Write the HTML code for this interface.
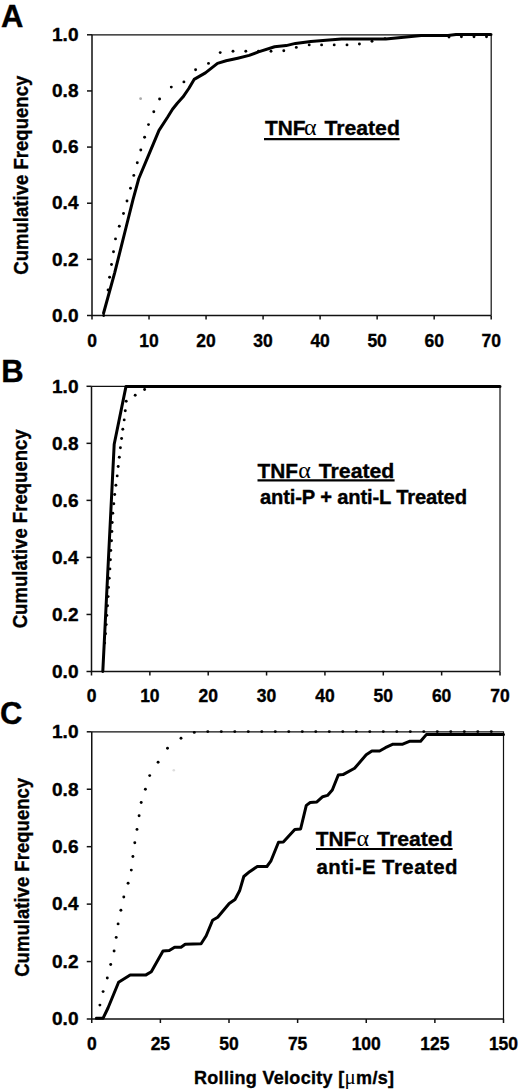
<!DOCTYPE html>
<html><head><meta charset="utf-8"><style>
html,body{margin:0;padding:0;background:#fff;}
body{width:520px;height:1090px;overflow:hidden;}
svg{display:block;}
text{font-family:"Liberation Sans", sans-serif;font-weight:bold;fill:#000;stroke:#000;stroke-width:0.35px;}
.t{font-size:17.5px;}
.yl{font-size:20px;}
.pl{font-size:31px;}
.gr{font-family:"Liberation Serif", serif;font-weight:normal;stroke:none;}
.gr2{font-family:"Liberation Serif", serif;font-weight:normal;stroke:none;font-size:21px;}
.xt{font-size:18px;}
</style></head><body>
<svg width="520" height="1090" viewBox="0 0 520 1090">
<rect width="520" height="1090" fill="#fff"/>
<path d="M92,34.8H491.2V315.5" fill="none" stroke="#111" stroke-width="1.2"/>
<path d="M92,34.8V315.5H491.2" fill="none" stroke="#111" stroke-width="1.5"/>
<path d="M87,315.5H92" stroke="#111" stroke-width="1.5"/>
<text x="52" y="321.76" class="t" textLength="26.5" lengthAdjust="spacingAndGlyphs">0.0</text>
<path d="M87,259.36H92" stroke="#111" stroke-width="1.5"/>
<text x="52" y="265.62" class="t" textLength="26.5" lengthAdjust="spacingAndGlyphs">0.2</text>
<path d="M87,203.22H92" stroke="#111" stroke-width="1.5"/>
<text x="52" y="209.48" class="t" textLength="26.5" lengthAdjust="spacingAndGlyphs">0.4</text>
<path d="M87,147.08H92" stroke="#111" stroke-width="1.5"/>
<text x="52" y="153.34" class="t" textLength="26.5" lengthAdjust="spacingAndGlyphs">0.6</text>
<path d="M87,90.94H92" stroke="#111" stroke-width="1.5"/>
<text x="52" y="97.2" class="t" textLength="26.5" lengthAdjust="spacingAndGlyphs">0.8</text>
<path d="M87,34.8H92" stroke="#111" stroke-width="1.5"/>
<text x="52" y="41.07" class="t" textLength="26.5" lengthAdjust="spacingAndGlyphs">1.0</text>
<path d="M92,315.5V319.5" stroke="#111" stroke-width="1.5"/>
<text x="92" y="346.5" text-anchor="middle" class="t">0</text>
<path d="M149.03,315.5V319.5" stroke="#111" stroke-width="1.5"/>
<text x="149.03" y="346.5" text-anchor="middle" class="t">10</text>
<path d="M206.06,315.5V319.5" stroke="#111" stroke-width="1.5"/>
<text x="206.06" y="346.5" text-anchor="middle" class="t">20</text>
<path d="M263.09,315.5V319.5" stroke="#111" stroke-width="1.5"/>
<text x="263.09" y="346.5" text-anchor="middle" class="t">30</text>
<path d="M320.11,315.5V319.5" stroke="#111" stroke-width="1.5"/>
<text x="320.11" y="346.5" text-anchor="middle" class="t">40</text>
<path d="M377.14,315.5V319.5" stroke="#111" stroke-width="1.5"/>
<text x="377.14" y="346.5" text-anchor="middle" class="t">50</text>
<path d="M434.17,315.5V319.5" stroke="#111" stroke-width="1.5"/>
<text x="434.17" y="346.5" text-anchor="middle" class="t">60</text>
<path d="M491.2,315.5V319.5" stroke="#111" stroke-width="1.5"/>
<text x="491.2" y="346.5" text-anchor="middle" class="t">70</text>
<text transform="translate(28,175.2) rotate(-90)" x="-99.5" y="0" class="yl" textLength="199" lengthAdjust="spacingAndGlyphs">Cumulative Frequency</text>
<circle cx="103.7" cy="315.5" r="1.45"/>
<circle cx="108.1" cy="290" r="1.45"/>
<circle cx="109.6" cy="277.2" r="1.45"/>
<circle cx="111.5" cy="264.5" r="1.45"/>
<circle cx="113.5" cy="251.7" r="1.45"/>
<circle cx="115.5" cy="238.9" r="1.45"/>
<circle cx="119.3" cy="226.2" r="1.45"/>
<circle cx="123.5" cy="213.5" r="1.45"/>
<circle cx="127" cy="201" r="1.45"/>
<circle cx="130.5" cy="188.3" r="1.45"/>
<circle cx="133.8" cy="175.4" r="1.45"/>
<circle cx="137.3" cy="162.7" r="1.45"/>
<circle cx="140.8" cy="150" r="1.45"/>
<circle cx="144.6" cy="137.3" r="1.45"/>
<circle cx="148.5" cy="124.6" r="1.45"/>
<circle cx="153.8" cy="111.7" r="1.45"/>
<circle cx="159.6" cy="99" r="1.45"/>
<circle cx="171.3" cy="87.1" r="1.45"/>
<circle cx="183.9" cy="81.9" r="1.45"/>
<circle cx="195.6" cy="69.8" r="1.45"/>
<circle cx="208.5" cy="63.4" r="1.45"/>
<circle cx="220.2" cy="52.6" r="1.45"/>
<circle cx="233" cy="51.2" r="1.45"/>
<circle cx="245.8" cy="51.2" r="1.45"/>
<circle cx="258.5" cy="51.2" r="1.45"/>
<circle cx="271" cy="51.2" r="1.45"/>
<circle cx="283.8" cy="50.8" r="1.45"/>
<circle cx="296.3" cy="47.4" r="1.45"/>
<circle cx="309.2" cy="44.9" r="1.45"/>
<circle cx="321.6" cy="44.9" r="1.45"/>
<circle cx="334.2" cy="44.9" r="1.45"/>
<circle cx="347" cy="44.9" r="1.45"/>
<circle cx="359.4" cy="44" r="1.45"/>
<circle cx="372" cy="41.2" r="1.45"/>
<circle cx="385" cy="38.6" r="1.45"/>
<circle cx="449" cy="37" r="1.45"/>
<circle cx="461.4" cy="36.7" r="1.45"/>
<circle cx="474" cy="36.7" r="1.45"/>
<circle cx="486.5" cy="36.7" r="1.45"/>
<polyline points="103.6,313 114.8,272.3 126.4,226 133,199.6 138.8,178.5 148.5,155.4 159,130.4 167.7,117 172.5,109.2 177.3,103.2 182.9,97.1 188.8,88.5 194.1,79.4 205.4,72.9 217.5,63.4 226.1,60.8 237.7,58.2 249.2,55.4 258.5,51.9 274.6,46.8 286.2,45.6 295.4,43.4 310.8,41.5 326,40.3 341.5,39.1 385.8,39 408.8,36.8 421.2,35.6 448,35.4 456,34.4 491,34.4" fill="none" stroke="#000" stroke-width="3.0" stroke-linejoin="round" stroke-linecap="round"/>
<path d="M91.5,386.3H500V671.5" fill="none" stroke="#111" stroke-width="1.2"/>
<path d="M91.5,386.3V671.5H500" fill="none" stroke="#111" stroke-width="1.5"/>
<path d="M86.5,671.5H91.5" stroke="#111" stroke-width="1.5"/>
<text x="52" y="677.76" class="t" textLength="26.5" lengthAdjust="spacingAndGlyphs">0.0</text>
<path d="M86.5,614.46H91.5" stroke="#111" stroke-width="1.5"/>
<text x="52" y="620.73" class="t" textLength="26.5" lengthAdjust="spacingAndGlyphs">0.2</text>
<path d="M86.5,557.42H91.5" stroke="#111" stroke-width="1.5"/>
<text x="52" y="563.68" class="t" textLength="26.5" lengthAdjust="spacingAndGlyphs">0.4</text>
<path d="M86.5,500.38H91.5" stroke="#111" stroke-width="1.5"/>
<text x="52" y="506.64" class="t" textLength="26.5" lengthAdjust="spacingAndGlyphs">0.6</text>
<path d="M86.5,443.34H91.5" stroke="#111" stroke-width="1.5"/>
<text x="52" y="449.61" class="t" textLength="26.5" lengthAdjust="spacingAndGlyphs">0.8</text>
<path d="M86.5,386.3H91.5" stroke="#111" stroke-width="1.5"/>
<text x="52" y="392.56" class="t" textLength="26.5" lengthAdjust="spacingAndGlyphs">1.0</text>
<path d="M91.5,671.5V675.5" stroke="#111" stroke-width="1.5"/>
<text x="91.5" y="701.6" text-anchor="middle" class="t">0</text>
<path d="M149.86,671.5V675.5" stroke="#111" stroke-width="1.5"/>
<text x="149.86" y="701.6" text-anchor="middle" class="t">10</text>
<path d="M208.21,671.5V675.5" stroke="#111" stroke-width="1.5"/>
<text x="208.21" y="701.6" text-anchor="middle" class="t">20</text>
<path d="M266.57,671.5V675.5" stroke="#111" stroke-width="1.5"/>
<text x="266.57" y="701.6" text-anchor="middle" class="t">30</text>
<path d="M324.93,671.5V675.5" stroke="#111" stroke-width="1.5"/>
<text x="324.93" y="701.6" text-anchor="middle" class="t">40</text>
<path d="M383.29,671.5V675.5" stroke="#111" stroke-width="1.5"/>
<text x="383.29" y="701.6" text-anchor="middle" class="t">50</text>
<path d="M441.64,671.5V675.5" stroke="#111" stroke-width="1.5"/>
<text x="441.64" y="701.6" text-anchor="middle" class="t">60</text>
<path d="M500,671.5V675.5" stroke="#111" stroke-width="1.5"/>
<text x="500" y="701.6" text-anchor="middle" class="t">70</text>
<text transform="translate(27,528.8) rotate(-90)" x="-99.5" y="0" class="yl" textLength="199" lengthAdjust="spacingAndGlyphs">Cumulative Frequency</text>
<circle cx="144.6" cy="389.5" r="1.45"/>
<circle cx="135.2" cy="395.3" r="1.45"/>
<circle cx="126.2" cy="401.2" r="1.45"/>
<circle cx="125.3" cy="410.7" r="1.45"/>
<circle cx="124.2" cy="419.9" r="1.45"/>
<circle cx="122.8" cy="429.2" r="1.45"/>
<circle cx="121.6" cy="438.5" r="1.45"/>
<circle cx="120.4" cy="447.8" r="1.45"/>
<circle cx="119.3" cy="457.2" r="1.45"/>
<circle cx="118.2" cy="466.5" r="1.45"/>
<circle cx="117.2" cy="475.9" r="1.45"/>
<circle cx="115.9" cy="485.2" r="1.45"/>
<circle cx="114.7" cy="494.5" r="1.45"/>
<circle cx="113.8" cy="503.8" r="1.45"/>
<circle cx="112.8" cy="513.2" r="1.45"/>
<circle cx="112.2" cy="522.5" r="1.45"/>
<circle cx="111.9" cy="531.5" r="1.45"/>
<circle cx="111.5" cy="540.8" r="1.45"/>
<circle cx="110.8" cy="550.5" r="1.45"/>
<circle cx="110.4" cy="559.7" r="1.45"/>
<circle cx="109.9" cy="568.9" r="1.45"/>
<circle cx="109.2" cy="578.2" r="1.45"/>
<circle cx="108.5" cy="587.4" r="1.45"/>
<circle cx="108.1" cy="596.6" r="1.45"/>
<circle cx="107.5" cy="605.8" r="1.45"/>
<circle cx="106.8" cy="615.4" r="1.45"/>
<circle cx="106.2" cy="624.6" r="1.45"/>
<circle cx="105.5" cy="633.8" r="1.45"/>
<circle cx="104.7" cy="643.1" r="1.45"/>
<polyline points="102.8,671.5 114.2,444.2 126,386.4 500,386.4" fill="none" stroke="#000" stroke-width="3.0" stroke-linejoin="round" stroke-linecap="round"/>
<path d="M91.75,731.8H503.5V1019" fill="none" stroke="#111" stroke-width="1.2"/>
<path d="M91.75,731.8V1019H503.5" fill="none" stroke="#111" stroke-width="1.5"/>
<path d="M86.75,1019H91.75" stroke="#111" stroke-width="1.5"/>
<text x="52" y="1025.27" class="t" textLength="26.5" lengthAdjust="spacingAndGlyphs">0.0</text>
<path d="M86.75,961.56H91.75" stroke="#111" stroke-width="1.5"/>
<text x="52" y="967.82" class="t" textLength="26.5" lengthAdjust="spacingAndGlyphs">0.2</text>
<path d="M86.75,904.12H91.75" stroke="#111" stroke-width="1.5"/>
<text x="52" y="910.38" class="t" textLength="26.5" lengthAdjust="spacingAndGlyphs">0.4</text>
<path d="M86.75,846.68H91.75" stroke="#111" stroke-width="1.5"/>
<text x="52" y="852.94" class="t" textLength="26.5" lengthAdjust="spacingAndGlyphs">0.6</text>
<path d="M86.75,789.24H91.75" stroke="#111" stroke-width="1.5"/>
<text x="52" y="795.5" class="t" textLength="26.5" lengthAdjust="spacingAndGlyphs">0.8</text>
<path d="M86.75,731.8H91.75" stroke="#111" stroke-width="1.5"/>
<text x="52" y="738.06" class="t" textLength="26.5" lengthAdjust="spacingAndGlyphs">1.0</text>
<path d="M91.75,1019V1023" stroke="#111" stroke-width="1.5"/>
<text x="91.75" y="1049.5" text-anchor="middle" class="t">0</text>
<path d="M160.38,1019V1023" stroke="#111" stroke-width="1.5"/>
<text x="160.38" y="1049.5" text-anchor="middle" class="t">25</text>
<path d="M229,1019V1023" stroke="#111" stroke-width="1.5"/>
<text x="229" y="1049.5" text-anchor="middle" class="t">50</text>
<path d="M297.62,1019V1023" stroke="#111" stroke-width="1.5"/>
<text x="297.62" y="1049.5" text-anchor="middle" class="t">75</text>
<path d="M366.25,1019V1023" stroke="#111" stroke-width="1.5"/>
<text x="366.25" y="1049.5" text-anchor="middle" class="t">100</text>
<path d="M434.88,1019V1023" stroke="#111" stroke-width="1.5"/>
<text x="434.88" y="1049.5" text-anchor="middle" class="t">125</text>
<path d="M503.5,1019V1023" stroke="#111" stroke-width="1.5"/>
<text x="503.5" y="1049.5" text-anchor="middle" class="t">150</text>
<text transform="translate(29,877.3) rotate(-90)" x="-99.5" y="0" class="yl" textLength="199" lengthAdjust="spacingAndGlyphs">Cumulative Frequency</text>
<circle cx="99.9" cy="1005.1" r="1.45"/>
<circle cx="103.1" cy="991.6" r="1.45"/>
<circle cx="107.3" cy="978" r="1.45"/>
<circle cx="110.7" cy="964.5" r="1.45"/>
<circle cx="114.1" cy="951" r="1.45"/>
<circle cx="116.2" cy="937.4" r="1.45"/>
<circle cx="118.1" cy="923.9" r="1.45"/>
<circle cx="120.9" cy="910.3" r="1.45"/>
<circle cx="123.8" cy="897" r="1.45"/>
<circle cx="128.1" cy="883.3" r="1.45"/>
<circle cx="131.3" cy="870.1" r="1.45"/>
<circle cx="132.9" cy="856.5" r="1.45"/>
<circle cx="134.8" cy="842.7" r="1.45"/>
<circle cx="137" cy="829.4" r="1.45"/>
<circle cx="139.1" cy="815.8" r="1.45"/>
<circle cx="141.2" cy="802.5" r="1.45"/>
<circle cx="145.4" cy="789.2" r="1.45"/>
<circle cx="149.7" cy="775.6" r="1.45"/>
<circle cx="158.1" cy="762.3" r="1.45"/>
<circle cx="167.5" cy="748.3" r="1.45"/>
<circle cx="181" cy="738.2" r="1.45"/>
<circle cx="194.3" cy="732.4" r="1.45"/>
<circle cx="207.8" cy="731.6" r="1.45"/>
<circle cx="221.3" cy="731.6" r="1.45"/>
<circle cx="234.8" cy="731.6" r="1.45"/>
<circle cx="248.3" cy="731.6" r="1.45"/>
<circle cx="261.8" cy="731.6" r="1.45"/>
<circle cx="275.3" cy="731.6" r="1.45"/>
<circle cx="288.8" cy="731.6" r="1.45"/>
<circle cx="302.3" cy="731.6" r="1.45"/>
<circle cx="315.8" cy="731.6" r="1.45"/>
<circle cx="329.3" cy="731.6" r="1.45"/>
<circle cx="342.8" cy="731.6" r="1.45"/>
<circle cx="356.3" cy="731.6" r="1.45"/>
<circle cx="369.8" cy="731.6" r="1.45"/>
<circle cx="383.3" cy="731.6" r="1.45"/>
<circle cx="396.8" cy="731.6" r="1.45"/>
<circle cx="410.3" cy="731.6" r="1.45"/>
<circle cx="423.8" cy="731.6" r="1.45"/>
<circle cx="437.3" cy="731.6" r="1.45"/>
<circle cx="450.8" cy="731.6" r="1.45"/>
<circle cx="464.3" cy="731.6" r="1.45"/>
<circle cx="477.8" cy="731.6" r="1.45"/>
<circle cx="491.3" cy="731.6" r="1.45"/>
<polyline points="96.3,1018.2 103.1,1018.2 108,1008 118.6,982.3 130.2,974.9 146,974.9 151.3,971.7 163,951 169.3,950.5 174.6,947.2 181,947.2 185.2,944.2 201.1,943.8 206.2,935.8 212.6,920.3 217.7,917.3 229.2,903.5 235,899.5 239.6,890.8 243.8,876.5 249.6,871.7 257.3,866.5 266.9,866.5 270.8,861.2 278.5,842.3 283.3,841.9 294.8,829.4 300.6,829 306.3,805.4 310.2,802.5 316.9,801.9 322.7,796.7 327.5,795.4 332.3,790 338.3,775 343,774.6 354.6,768.3 366.2,754.8 371.9,751 379.6,751 385.4,747.7 393,744.2 402.7,744.2 409.4,741.3 420.6,741.3 426.3,734.6 503.5,734.6" fill="none" stroke="#000" stroke-width="3.0" stroke-linejoin="round" stroke-linecap="round"/>
<circle cx="140.6" cy="98.7" r="1.4" fill="#aaa"/>
<circle cx="173.8" cy="770.2" r="1.3" fill="#ddd"/>
<text x="1" y="26.8" class="pl">A</text>
<text x="1.2" y="381.5" class="pl">B</text>
<text x="0" y="723.6" class="pl">C</text>
<text x="265" y="134.8" class="lg" style="font-size:21px" textLength="40.5" lengthAdjust="spacingAndGlyphs">TNF</text>
<text x="304" y="134.8" class="gr" style="font-size:24px">&#945;</text>
<text x="324.4" y="134.8" class="lg" style="font-size:21px" textLength="75.5" lengthAdjust="spacingAndGlyphs">Treated</text>
<path d="M264,139.1H399.6" stroke="#000" stroke-width="2.1"/>
<text x="257.5" y="477.5" class="lg" style="font-size:21px" textLength="40.5" lengthAdjust="spacingAndGlyphs">TNF</text>
<text x="298.3" y="477.5" class="gr" style="font-size:24px">&#945;</text>
<text x="318.8" y="477.5" class="lg" style="font-size:21px" textLength="75.5" lengthAdjust="spacingAndGlyphs">Treated</text>
<path d="M257.5,480.4H394.6" stroke="#000" stroke-width="2.1"/>
<text x="315.8" y="845.6" class="lg" style="font-size:21px" textLength="40.5" lengthAdjust="spacingAndGlyphs">TNF</text>
<text x="356.6" y="845.6" class="gr" style="font-size:24px">&#945;</text>
<text x="377.1" y="845.6" class="lg" style="font-size:21px" textLength="75.5" lengthAdjust="spacingAndGlyphs">Treated</text>
<path d="M316,849H452.6" stroke="#000" stroke-width="2.1"/>
<text x="260" y="503.6" class="lg" style="font-size:20.2px" textLength="207" lengthAdjust="spacing">anti-P + anti-L Treated</text>
<text x="316.5" y="873.9" class="lg" style="font-size:20.4px" textLength="141" lengthAdjust="spacing">anti-E Treated</text>
<text x="194" y="1084.4" class="xt" textLength="200" lengthAdjust="spacing">Rolling Velocity [<tspan class="gr2">&#956;</tspan>m/s]</text>
</svg>
</body></html>
